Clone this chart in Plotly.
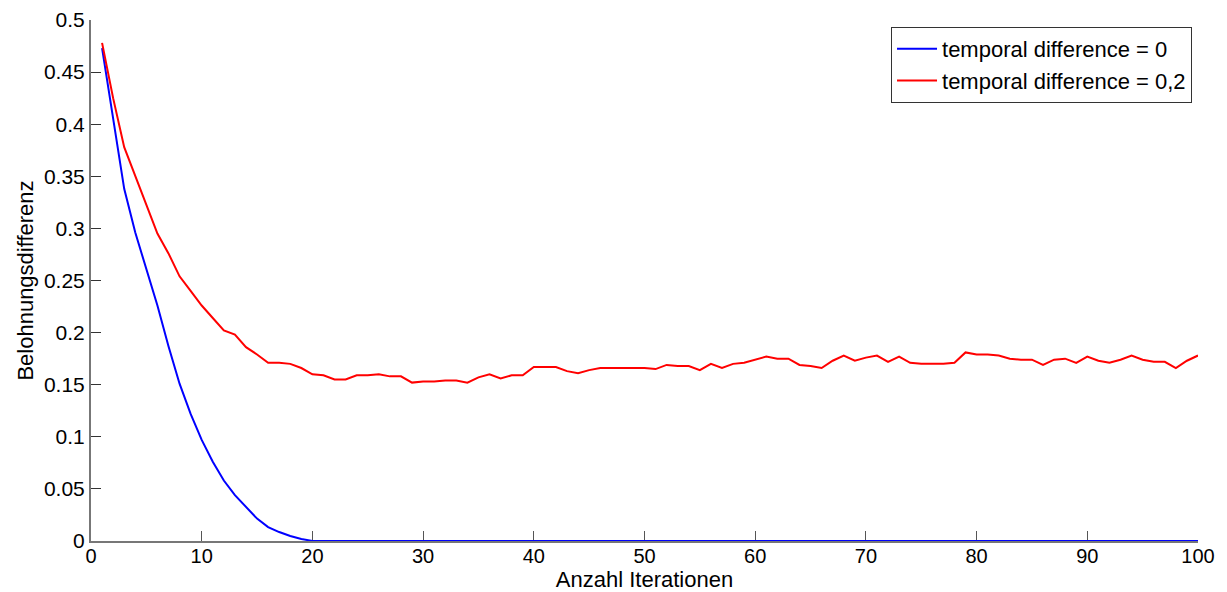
import plotly.graph_objects as go

iterations = list(range(1, 101))

td_0 = [
    0.473, 0.404, 0.338, 0.296, 0.260, 0.226, 0.187, 0.151, 0.122, 0.097,
    0.076, 0.058, 0.044, 0.033, 0.0215, 0.0134, 0.0086, 0.0048, 0.002, 0.0,
    0.0, 0.0, 0.0, 0.0, 0.0, 0.0, 0.0, 0.0, 0.0, 0.0,
    0.0, 0.0, 0.0, 0.0, 0.0, 0.0, 0.0, 0.0, 0.0, 0.0,
    0.0, 0.0, 0.0, 0.0, 0.0, 0.0, 0.0, 0.0, 0.0, 0.0,
    0.0, 0.0, 0.0, 0.0, 0.0, 0.0, 0.0, 0.0, 0.0, 0.0,
    0.0, 0.0, 0.0, 0.0, 0.0, 0.0, 0.0, 0.0, 0.0, 0.0,
    0.0, 0.0, 0.0, 0.0, 0.0, 0.0, 0.0, 0.0, 0.0, 0.0,
    0.0, 0.0, 0.0, 0.0, 0.0, 0.0, 0.0, 0.0, 0.0, 0.0,
    0.0, 0.0, 0.0, 0.0, 0.0, 0.0, 0.0, 0.0, 0.0, 0.0,
]

td_02 = [
    0.478, 0.425, 0.378, 0.350, 0.321, 0.295, 0.276, 0.254, 0.240, 0.226,
    0.214, 0.202, 0.198, 0.186, 0.179, 0.171, 0.171, 0.170, 0.166, 0.160,
    0.159, 0.155, 0.155, 0.159, 0.159, 0.160, 0.158, 0.158, 0.152, 0.153,
    0.153, 0.154, 0.154, 0.152, 0.157, 0.160, 0.156, 0.159, 0.159, 0.167,
    0.167, 0.167, 0.163, 0.161, 0.164, 0.166, 0.166, 0.166, 0.166, 0.166,
    0.165, 0.169, 0.168, 0.168, 0.164, 0.170, 0.166, 0.170, 0.171, 0.174,
    0.177, 0.175, 0.175, 0.169, 0.168, 0.166, 0.173, 0.178, 0.173, 0.176,
    0.178, 0.172, 0.177, 0.171, 0.170, 0.170, 0.170, 0.171, 0.181, 0.179,
    0.179, 0.178, 0.175, 0.174, 0.174, 0.169, 0.174, 0.175, 0.171, 0.177,
    0.173, 0.171, 0.174, 0.178, 0.174, 0.172, 0.172, 0.166, 0.173, 0.178,
]

series_names = ["temporal difference = 0", "temporal difference = 0,2"]
x_label = "Anzahl Iterationen"
y_label = "Belohnungsdifferenz"
x_ticks = [0, 10, 20, 30, 40, 50, 60, 70, 80, 90, 100]
y_ticks = [0, 0.05, 0.1, 0.15, 0.2, 0.25, 0.3, 0.35, 0.4, 0.45, 0.5]
y_tick_text = ["0", "0.05", "0.1", "0.15", "0.2", "0.25", "0.3", "0.35", "0.4", "0.45", "0.5"]

FONT = "Arial, Liberation Sans, sans-serif"

fig = go.Figure()
fig.add_trace(go.Scatter(x=iterations, y=td_0, mode="lines", name=series_names[0],
                         line=dict(color="#0000FF", width=2)))
fig.add_trace(go.Scatter(x=iterations, y=td_02, mode="lines", name=series_names[1],
                         line=dict(color="#FF0000", width=2)))

fig.update_layout(
    width=1227, height=592,
    margin=dict(l=91, r=29, t=20, b=51, pad=0),
    paper_bgcolor="white", plot_bgcolor="white",
    font=dict(family=FONT, size=21, color="black"),
    showlegend=True,
    legend=dict(
        x=0.9946, y=0.9866, xanchor="right", yanchor="top",
        bgcolor="white", bordercolor="#333333", borderwidth=1,
        font=dict(family=FONT, size=22, color="black"),
        tracegroupgap=0, itemwidth=40,
    ),
)

fig.update_xaxes(
    range=[0, 100], tickmode="array", tickvals=x_ticks,
    ticks="inside", ticklen=10, tickwidth=1, tickcolor="#555555",
    showline=True, linecolor="#777777", linewidth=2,
    showgrid=False, zeroline=False, layer="below traces",
    automargin=False, ticklabelstandoff=-4,
    tickfont=dict(family=FONT, size=20, color="black"),
    title=dict(text=x_label, font=dict(family=FONT, size=22, color="black"), standoff=2),
    mirror=False,
)
fig.update_yaxes(
    range=[0, 0.5], tickmode="array", tickvals=y_ticks, ticktext=y_tick_text,
    ticks="inside", ticklen=10, tickwidth=1, tickcolor="#333333",
    showline=True, linecolor="#777777", linewidth=2,
    showgrid=False, zeroline=False, layer="below traces",
    automargin=False,
    tickfont=dict(family=FONT, size=21, color="black"),
    title=dict(text=y_label, font=dict(family=FONT, size=22, color="black"), standoff=4),
    mirror=False,
)

fig.write_html("out.html")
